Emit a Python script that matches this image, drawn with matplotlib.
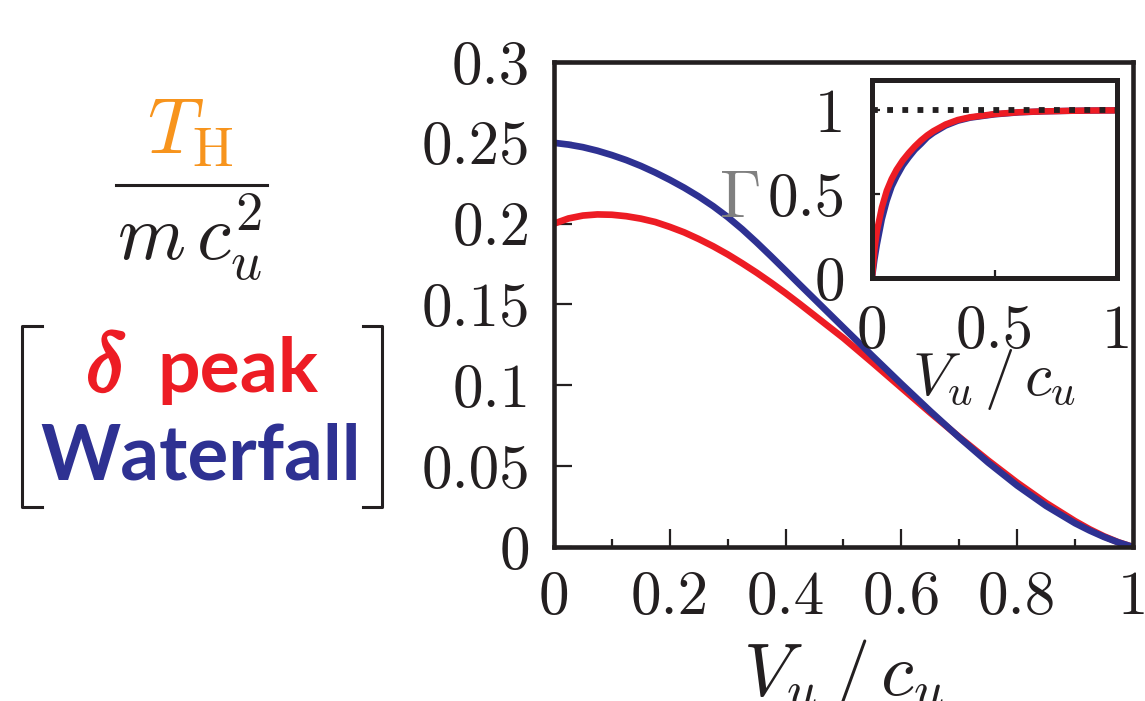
import numpy as np
import matplotlib
matplotlib.use('Agg')
from matplotlib import pyplot as plt
from matplotlib.lines import Line2D
import matplotlib.patheffects as pe

plt.rcParams['mathtext.fontset'] = 'cm'
plt.rcParams['font.family'] = 'cmr10'
plt.rcParams['axes.unicode_minus'] = False

# datos: T_H / (m c_u^2) contra V_u / c_u
v = [0, 0.025, 0.05, 0.075, 0.1, 0.125, 0.15, 0.175, 0.2, 0.225, 0.25, 0.275, 0.3,
     0.325, 0.35, 0.375, 0.4, 0.425, 0.45, 0.475, 0.5, 0.55, 0.6, 0.65, 0.7, 0.75,
     0.8, 0.85, 0.9, 0.925, 0.95, 0.975, 1.0]
t_delta = [0.2000, 0.2032, 0.2050, 0.2057, 0.2055, 0.2046, 0.2031, 0.2010, 0.1980, 0.1946, 0.1905, 0.1860, 0.1810,
           0.1755, 0.1697, 0.1635, 0.1570, 0.1502, 0.1432, 0.1362, 0.1292, 0.1140, 0.0985, 0.0830, 0.0680, 0.0535,
           0.0398, 0.0272, 0.0160, 0.0110, 0.0066, 0.0029, 0.0]
t_water = [0.2500, 0.2489, 0.2473, 0.2451, 0.2424, 0.2393, 0.2357, 0.2316, 0.2271, 0.2222, 0.2168, 0.2108, 0.2041,
           0.1966, 0.1884, 0.1798, 0.1710, 0.1621, 0.1533, 0.1445, 0.1357, 0.1182, 0.1009, 0.0840, 0.0677, 0.0522,
           0.0380, 0.0254, 0.0147, 0.0102, 0.0062, 0.0028, 0.0]

# recuadro: Gamma contra V_u / c_u
v_in = [0, 0.01, 0.02, 0.04, 0.06, 0.08, 0.1, 0.125, 0.15, 0.175, 0.2, 0.225, 0.25,
        0.3, 0.35, 0.4, 0.5, 0.6, 0.7, 0.8, 0.9, 1.0]
g_delta = [0, 0.17, 0.28, 0.42, 0.52, 0.59, 0.645, 0.70, 0.745, 0.785, 0.82, 0.85, 0.875,
           0.915, 0.942, 0.958, 0.977, 0.988, 0.993, 0.996, 0.998, 0.999]
g_water = [0, 0.11, 0.20, 0.35, 0.46, 0.545, 0.605, 0.67, 0.72, 0.765, 0.80, 0.838, 0.865,
           0.908, 0.937, 0.955, 0.975, 0.987, 0.993, 0.996, 0.998, 0.999]

x_ticks = [0, 0.2, 0.4, 0.6, 0.8, 1]
x_labels = ['0', '0.2', '0.4', '0.6', '0.8', '1']
y_ticks = [0, 0.05, 0.1, 0.15, 0.2, 0.25, 0.3]
y_labels = ['0', '0.05', '0.1', '0.15', '0.2', '0.25', '0.3']
in_ticks = [0, 0.5, 1]
in_labels = ['0', '0.5', '1']

RED = '#ED1C24'
BLUE = '#2E3192'
ORANGE = '#F7941D'
INK = '#231F20'

fig = plt.figure(figsize=(11.45, 7.01), dpi=100)

# panel principal
ax = fig.add_axes([0.4838, 0.2197, 0.5057, 0.6919])
ax.plot(v, t_delta, color=RED, lw=4.8, solid_capstyle='butt')
ax.plot(v, t_water, color=BLUE, lw=4.8, solid_capstyle='butt')
ax.set_xlim(0, 1)
ax.set_ylim(0, 0.3)
ax.set_xticks(x_ticks)
ax.set_xticklabels(x_labels)
ax.set_xticks([0.1, 0.3, 0.5, 0.7, 0.9], minor=True)
ax.set_yticks(y_ticks)
ax.set_yticklabels(y_labels)
ax.tick_params(axis='both', which='major', direction='in', length=13, width=1.6,
               color=INK, labelsize=44, labelcolor=INK, pad=17, top=False, right=False)
ax.tick_params(axis='x', which='minor', direction='in', length=6, width=1.6, color=INK)
for s in ax.spines.values():
    s.set_linewidth(3.3)
    s.set_color(INK)
ax.set_xlabel(r'$V_u\,/\,c_u$', fontsize=54, color=INK, labelpad=8)

# recuadro
axi = fig.add_axes([0.7616, 0.6034, 0.2140, 0.2825])
axi.plot(v_in, g_water, color=BLUE, lw=4.6)
axi.plot(v_in, g_delta, color=RED, lw=4.6)
axi.plot([0, 1], [1, 1], color=INK, lw=4.2, linestyle=(0, (1, 1.6)), zorder=5)
axi.set_xlim(0, 1)
axi.set_ylim(0, 1.18)
axi.set_xticks(in_ticks)
axi.set_xticklabels(in_labels)
axi.set_yticks(in_ticks)
axi.set_yticklabels(in_labels)
axi.tick_params(axis='both', direction='in', length=6, width=1.6, color=INK,
                labelsize=44, labelcolor=INK, pad=19)
for s in axi.spines.values():
    s.set_linewidth(3.6)
    s.set_color(INK)
axi.set_xlabel(r'$V_u\,/\,c_u$', fontsize=44, color=INK, labelpad=-9)
fig.text(739 / 1145, 1 - 200 / 701, r'$\Gamma$', fontsize=48, color='#808080',
         ha='center', va='center')

# etiqueta del eje y a la izquierda
fig.text(190 / 1145, 1 - 133 / 701, r'$T_{\mathrm{H}}$', fontsize=56, color=ORANGE,
         ha='center', va='center')
fig.add_artist(Line2D([116 / 1145, 267 / 1145], [1 - 185 / 701, 1 - 185 / 701],
                      color=INK, lw=2.2, transform=fig.transFigure))
fig.text(189 / 1145, 1 - 238 / 701, r'$m\,c_u^2$', fontsize=56, color=INK,
         ha='center', va='center')

# corchetes con la leyenda
bx = [42, 22, 22, 42]
by = [326, 326, 507, 507]
fig.add_artist(Line2D([p / 1145 for p in bx], [1 - p / 701 for p in by],
                      color=INK, lw=2.2, transform=fig.transFigure))
bx2 = [363, 382, 382, 363]
fig.add_artist(Line2D([p / 1145 for p in bx2], [1 - p / 701 for p in by],
                      color=INK, lw=2.2, transform=fig.transFigure))
fig.text(106 / 1145, 1 - 391 / 701, r'$\delta$', fontsize=60, color=RED,
         ha='center', va='baseline',
         path_effects=[pe.withStroke(linewidth=2.2, foreground=RED)])
fig.text(157 / 1145, 1 - 392 / 701, 'peak', fontsize=54, color=RED,
         family='Lato', weight='bold', ha='left', va='baseline')
fig.text(201 / 1145, 1 - 480 / 701, 'Waterfall', fontsize=55, color=BLUE,
         family='Lato', weight='bold', ha='center', va='baseline')

fig.savefig('out.png', dpi=100)
